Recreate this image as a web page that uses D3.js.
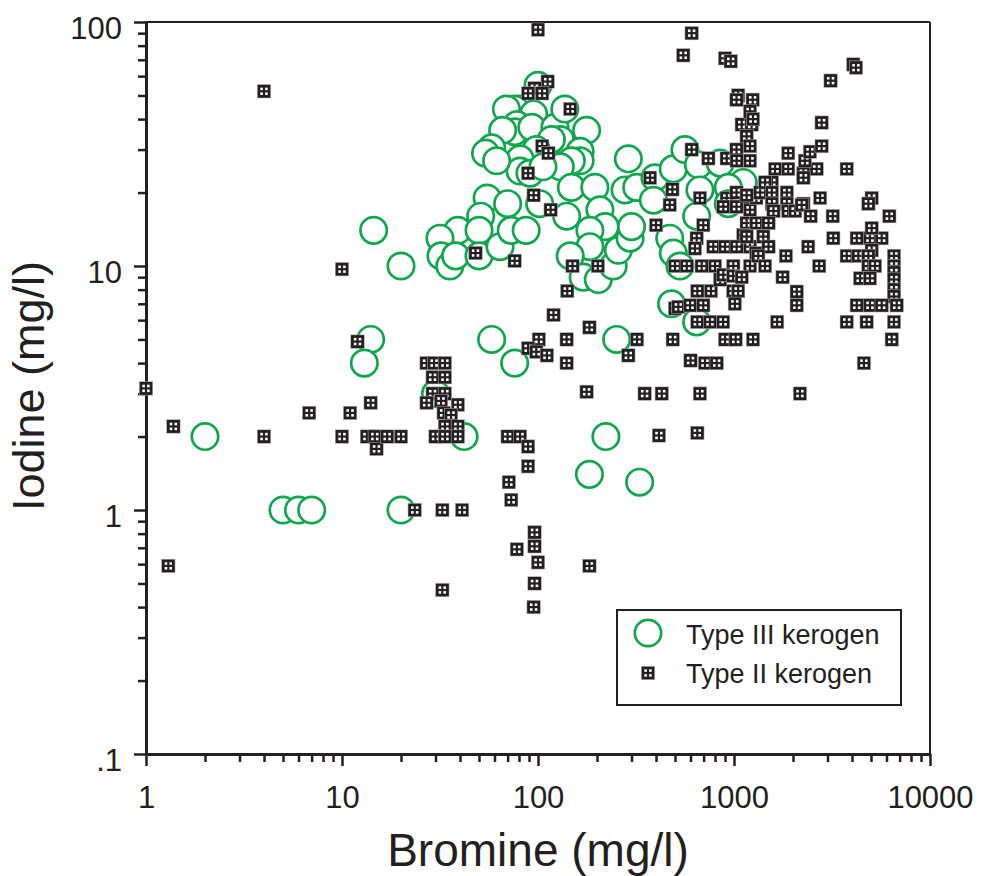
<!DOCTYPE html>
<html>
<head>
<meta charset="utf-8">
<script src="https://cdn.jsdelivr.net/npm/d3@7"></script>
<style>
  body { margin: 0; background: #fff; }
  svg { display: block; font-family: "Liberation Sans", Arial, Helvetica, sans-serif; }
</style>
</head>
<body>
<svg id="chart" width="981" height="876"></svg>
<script>
// [bromine, iodine] in mg/l
var typeIII = [
  [14.5, 14], [20, 10], [14, 5], [13, 4], [30, 3], [42, 2], [2, 2], [5, 1], [6, 1], [7, 1], [20, 1],
  [100, 55], [81, 44], [76, 44], [69, 44], [95, 42], [78, 38], [76, 35.5], [66, 36], [93, 37], [122, 37],
  [137, 44], [177, 36], [130, 33], [117, 33], [164, 29.5], [164, 27], [148, 27], [130, 25.5], [98, 30],
  [81, 27.5], [81, 24.5], [91, 24], [58, 30.5], [54, 29], [61.5, 27], [289, 27.5], [106, 25.5],
  [55, 19], [70, 18], [51, 16], [39, 14], [31.6, 13], [32, 11], [35.5, 10], [38, 11], [50, 14], [50, 11],
  [64, 12], [73, 14], [87, 14], [102, 18], [148, 21], [195, 21], [140, 16], [207, 17], [220, 14.5],
  [184, 14], [184, 12], [146, 11], [170, 9], [203, 8.8], [242, 10], [257, 11.6], [295, 13], [300, 14.5],
  [278, 20.5], [319, 21], [395, 23], [388, 18.6], [470, 13], [490, 11.3], [480, 7], [490, 25],
  [58, 5], [76, 4], [252, 5], [645, 5.9], [222, 2], [183, 1.4], [330, 1.3],
  [562, 30], [658, 26], [850, 26.4], [1115, 22], [670, 20.5], [935, 21], [645, 16], [935, 18], [530, 10]
]

var typeII = [
  [1.0, 3.15], [1.38, 2.2], [1.3, 0.59], [4, 2], [4, 52], [6.8, 2.5], [10, 9.7], [10, 2.0], [11, 2.5],
  [12, 4.9], [13.4, 2.0], [14.7, 2.0], [14, 2.75], [15, 1.78], [17, 2.0], [20, 2.0], [23.5, 1],
  [27, 4], [29.5, 4], [33.5, 4], [29, 3.5], [33.5, 3.5], [29, 3.0], [33.5, 3.0], [27, 2.75], [32, 2.8],
  [39, 2.7], [33, 2.5], [36, 2.45], [33.5, 2.2], [39, 2.2], [30, 2.0], [33.5, 2.0], [39, 2.0],
  [32.5, 1], [41, 1], [32.5, 0.47],
  [48, 11.3], [76, 10.5], [70, 2.0], [81, 2.0], [89, 1.82], [89, 1.51], [71, 1.3], [73, 1.1],
  [96, 0.81], [96, 0.71], [78, 0.69], [100, 0.61], [96, 0.5], [95, 0.4], [183, 0.59],
  [100, 93], [112, 57], [96, 53.5], [89, 51], [105, 51], [146, 44], [105, 31], [113, 29], [89, 24],
  [95, 19.5], [116, 17], [150, 10], [202, 10], [141, 7.9], [120, 6.3],
  [101, 5], [89, 4.6], [98, 4.45], [111, 4.3], [140, 5], [140, 4], [183, 5.6], [177, 3.05], [320, 5],
  [289, 4.3], [487, 5], [350, 3], [428, 3], [670, 3], [414, 2.02], [650, 2.07], [2170, 3],
  [373, 23], [485, 20.6], [470, 17.8], [400, 14.7], [500, 10], [500, 6.7], [520, 6.8], [597, 6.9],
  [697, 6.9], [650, 7.9], [763, 7.9], [990, 7.9], [1050, 7.9], [650, 5.9], [754, 5.9], [880, 5.9],
  [900, 5], [1020, 5], [1250, 5], [600, 4.1], [711, 4], [816, 4], [850, 8.8], [1010, 7],
  [608, 90], [551, 73], [900, 71], [962, 69], [608, 30], [740, 27.6], [918, 27.6], [1095, 38],
  [1230, 38], [1160, 34], [1030, 30], [1207, 31], [1207, 27], [1032, 27], [1050, 50], [1030, 48],
  [1245, 48], [1207, 43], [1250, 40],
  [670, 19], [697, 14.7], [645, 13], [632, 11.8], [918, 19], [882, 17.5], [1030, 20], [1180, 19],
  [1030, 17.5], [1207, 17], [1160, 15], [1300, 19], [1300, 15], [1115, 13.4], [784, 12], [900, 12],
  [1032, 12], [1207, 12], [1300, 11.3], [574, 10], [684, 10], [800, 10], [992, 10], [1207, 10],
  [882, 9.2], [990, 9.1], [1095, 9],
  [1360, 20], [1560, 22], [1440, 22], [1560, 20], [1860, 20], [1560, 18], [1860, 18], [2260, 18],
  [1620, 25], [1890, 25], [2260, 24], [2640, 25], [2260, 23], [1890, 29], [2300, 27], [2440, 29.4],
  [2800, 31], [2800, 38.7], [3110, 57.5], [4060, 67], [4190, 65], [3760, 25], [2750, 19], [5040, 19],
  [4850, 18],
  [1160, 19.5], [1590, 16.8], [1890, 16.8], [2050, 16.8], [2215, 17.8], [2460, 16], [3190, 16],
  [6200, 16], [1500, 15], [1160, 13.2], [1410, 13.2], [1500, 12], [1330, 11], [1440, 10], [1840, 11],
  [2390, 12], [2720, 10], [1770, 9], [2090, 7.85], [2090, 6.9], [1660, 5.9],
  [3210, 13], [4230, 13], [4940, 13], [5670, 13], [5040, 14.3], [5040, 11.6], [3760, 11], [4310, 11],
  [4850, 11], [4850, 10], [5240, 10], [4400, 8.9], [4940, 8.9],
  [6550, 11], [6550, 10], [6550, 9.4], [6550, 8.8], [6550, 8], [6550, 7.5], [4230, 6.9], [4940, 6.9],
  [5670, 6.9], [6760, 6.9], [3760, 5.9], [4750, 5.9], [6550, 5.9], [6380, 5], [4600, 4]
]

var xMajor = [1, 10, 100, 1000, 10000]
var xLabels = ["1", "10", "100", "1000", "10000"]
var yMajor = [0.1, 1, 10, 100]
var yLabels = [".1", "1", "10", "100"]
var legendNames = ["Type III kerogen", "Type II kerogen"]

var ink = "#231f20"
var green = "#0ea74c"

var svg = d3.select("#chart")
var plotL = 146, plotR = 930, plotT = 22, plotB = 754

var x = d3.scaleLog().domain([1, 10000]).range([plotL, plotR])
var y = d3.scaleLog().domain([0.1, 100]).range([plotB, plotT])

function minors(decades) {
  var out = []
  decades.forEach(function(d) {
    for (var k = 2; k <= 9; k++) out.push(d * k)
  })
  return out
}

// frame top/right
svg.append("line").attr("x1", plotL).attr("x2", plotR).attr("y1", plotT).attr("y2", plotT)
  .attr("stroke", ink).attr("stroke-width", 2)
svg.append("line").attr("x1", plotR).attr("x2", plotR).attr("y1", plotT).attr("y2", plotB)
  .attr("stroke", ink).attr("stroke-width", 2)

// minor ticks
svg.append("g").attr("transform", `translate(0,${plotB})`)
  .call(d3.axisBottom(x).tickValues(minors([1, 10, 100, 1000])).tickSize(8).tickSizeOuter(0).tickFormat(""))
  .call(g => g.select(".domain").remove())
svg.append("g").attr("transform", `translate(${plotL},0)`)
  .call(d3.axisLeft(y).tickValues(minors([0.1, 1, 10])).tickSize(8).tickSizeOuter(0).tickFormat(""))
  .call(g => g.select(".domain").remove())

// major ticks + labels
var xAxis = svg.append("g").attr("transform", `translate(0,${plotB})`)
  .call(d3.axisBottom(x).tickValues(xMajor).tickSize(12).tickSizeOuter(0).tickPadding(20)
    .tickFormat((d, i) => xLabels[i]))
var yAxis = svg.append("g").attr("transform", `translate(${plotL},0)`)
  .call(d3.axisLeft(y).tickValues(yMajor).tickSize(12).tickSizeOuter(0).tickPadding(12)
    .tickFormat((d, i) => yLabels[i]))
yAxis.selectAll("text").attr("dy", "0.52em")

svg.selectAll(".tick line").attr("stroke", ink).attr("stroke-width", 2.5)
svg.selectAll(".tick text").attr("fill", ink).style("font-size", "31px")
  .style("font-family", '"Liberation Sans", Arial, Helvetica, sans-serif')
svg.selectAll(".domain").attr("stroke", ink).attr("stroke-width", 3)

// axis titles
svg.append("text").attr("x", 538).attr("y", 866).attr("text-anchor", "middle")
  .attr("fill", ink).style("font-size", "46px").text("Bromine (mg/l)")
svg.append("text").attr("transform", "translate(44,386) rotate(-90)").attr("text-anchor", "middle")
  .attr("fill", ink).style("font-size", "45px").text("Iodine (mg/l)")

function circleMark(sel) {
  sel.append("circle").attr("r", 13.2).attr("fill", "#fff")
    .attr("stroke", green).attr("stroke-width", 2.7)
}

// black square with four small white windows
function squareMark(sel) {
  sel.append("rect").attr("x", -6.7).attr("y", -6.7).attr("width", 13.4).attr("height", 13.4)
    .attr("fill", ink).attr("stroke", "#b0b0b0").attr("stroke-width", 0.5)
  ;[[-3.7, -3.7], [1.1, -3.7], [-3.7, 1.1], [1.1, 1.1]].forEach(function(o) {
    sel.append("rect").attr("x", o[0]).attr("y", o[1]).attr("width", 2.6).attr("height", 2.6)
      .attr("fill", "#fff")
  })
}

var plot = svg.append("g")

plot.selectAll("g.t3")
  .data(typeIII)
  .enter()
  .append("g")
  .attr("class", "t3")
  .attr("transform", d => `translate(${x(d[0])},${y(d[1])})`)
  .call(circleMark)

plot.selectAll("g.t2")
  .data(typeII)
  .enter()
  .append("g")
  .attr("class", "t2")
  .attr("transform", d => `translate(${x(d[0])},${y(d[1])})`)
  .each(function() { squareMark(d3.select(this)) })

// legend
var lg = svg.append("g")
lg.append("rect").attr("x", 617).attr("y", 610).attr("width", 284).attr("height", 95)
  .attr("fill", "#fff").attr("stroke", ink).attr("stroke-width", 2)
lg.append("g").attr("transform", "translate(648,633)").call(circleMark)
lg.append("g").attr("transform", "translate(648,673)").each(function() { squareMark(d3.select(this)) })
lg.selectAll("text.lg")
  .data(legendNames)
  .enter()
  .append("text")
  .attr("class", "lg")
  .attr("x", 686)
  .attr("y", (d, i) => 644 + i * 39)
  .attr("fill", ink)
  .style("font-size", "27px")
  .text(d => d)
</script>
</body>
</html>
